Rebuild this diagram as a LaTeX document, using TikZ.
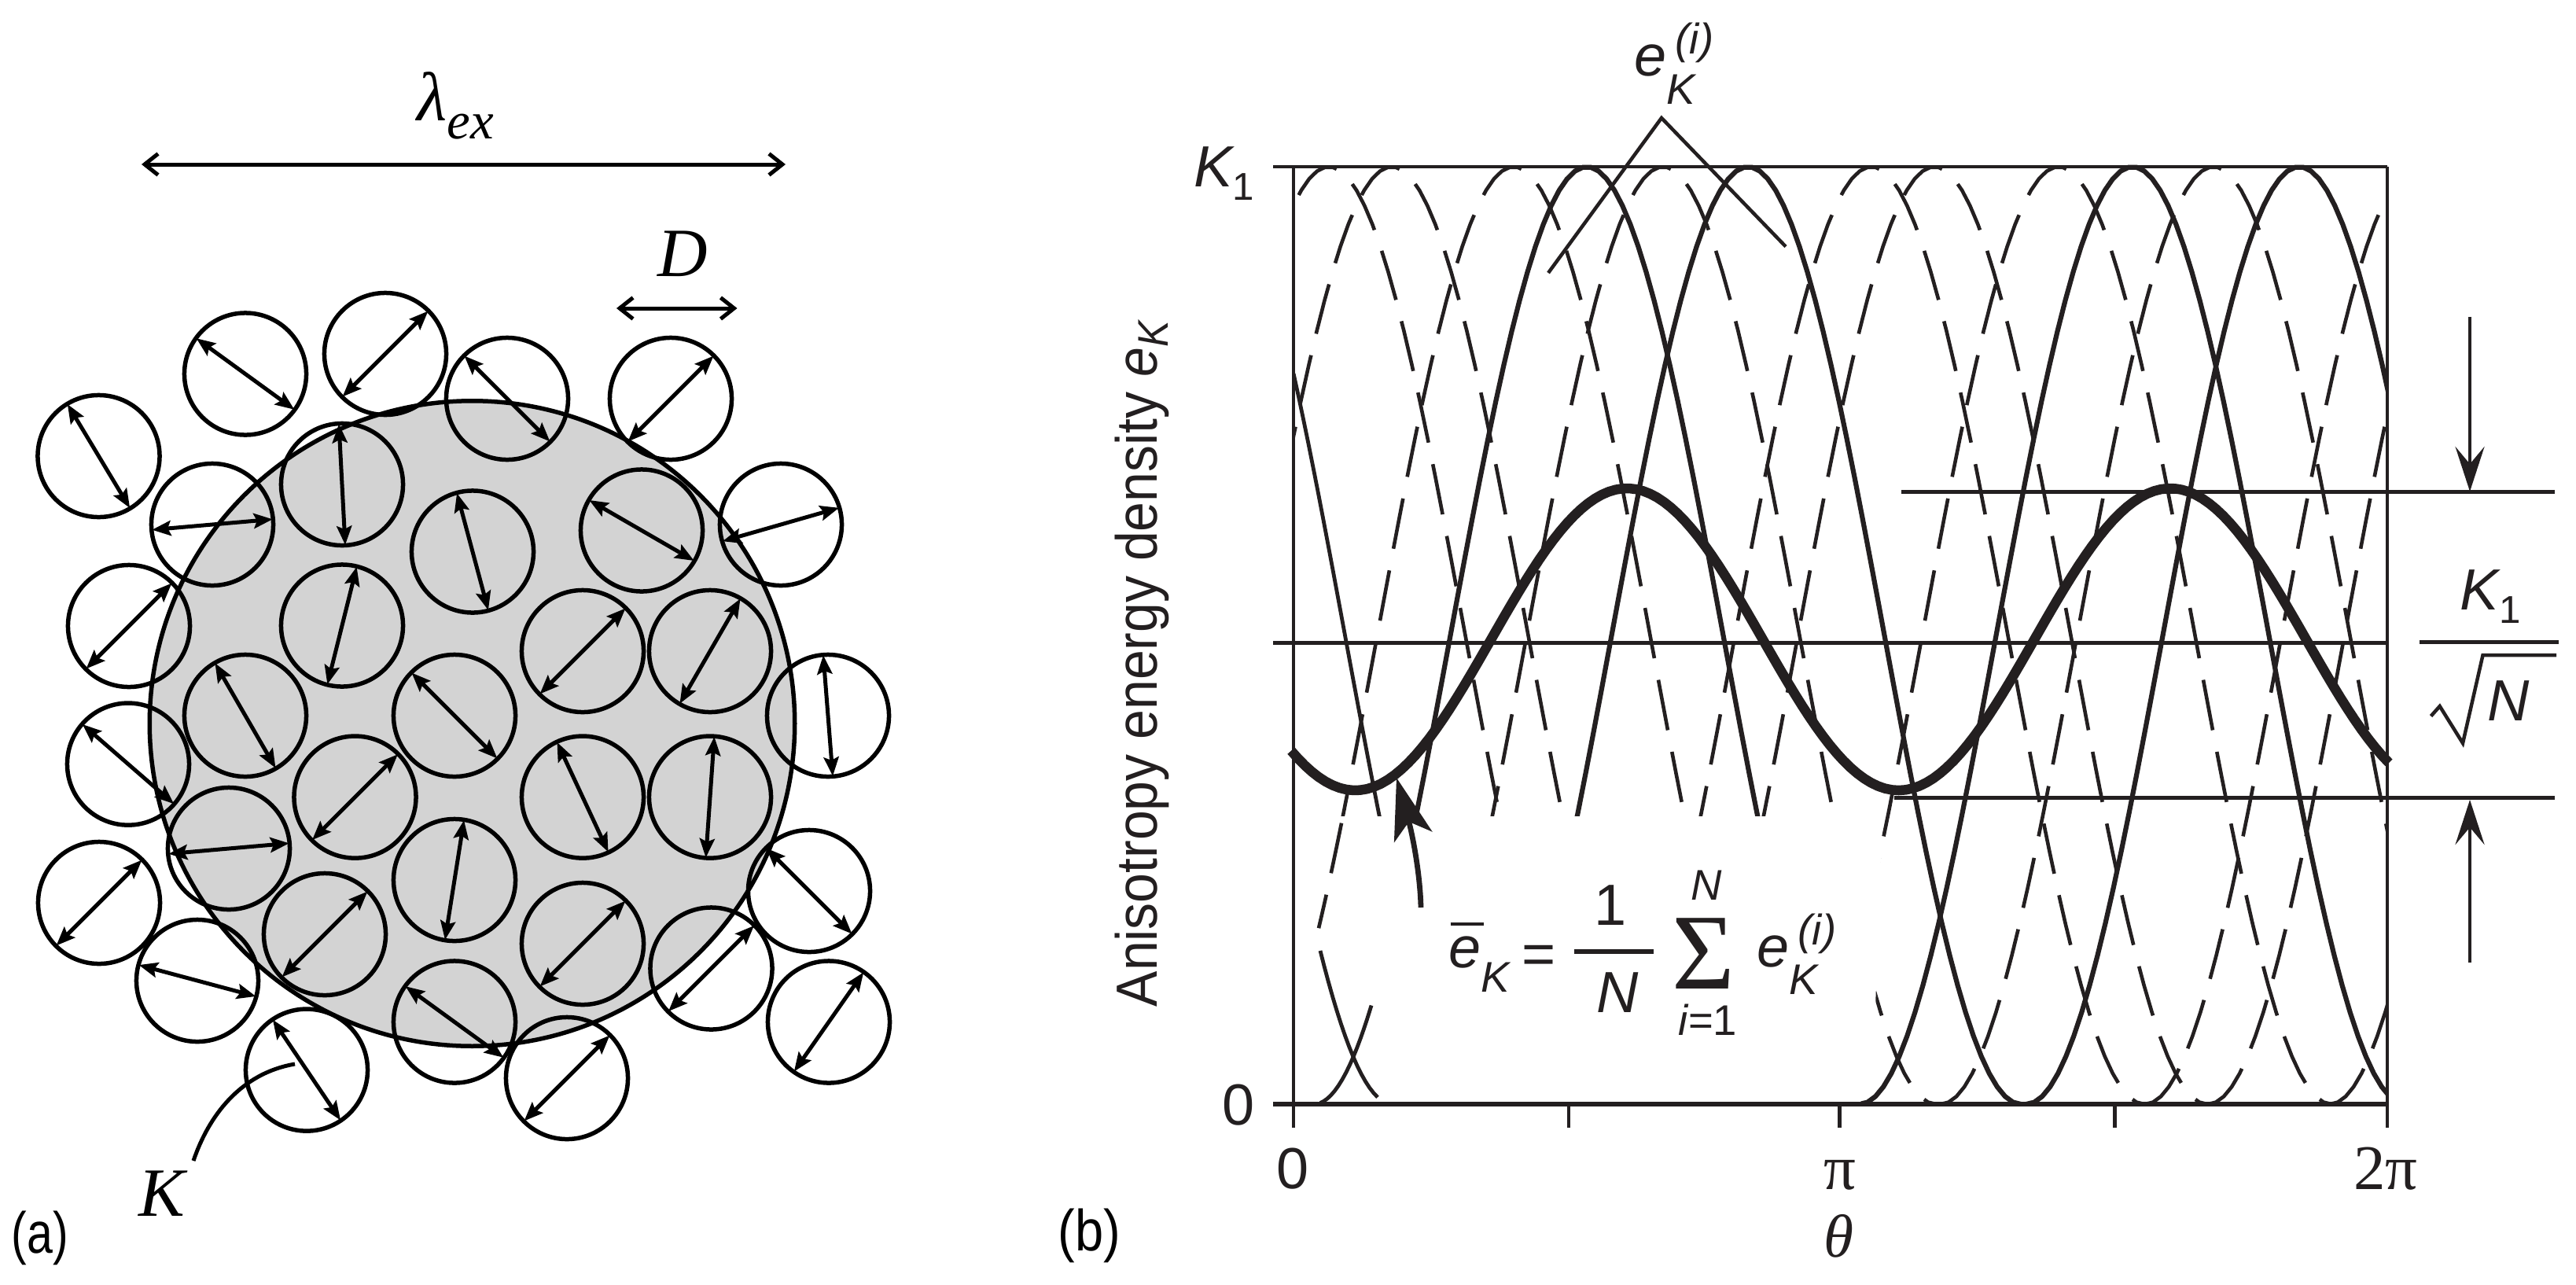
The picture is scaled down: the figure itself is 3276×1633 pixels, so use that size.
\documentclass[tikz,border=0pt]{standalone}
\usepackage{fontspec}
\setmainfont{Liberation Sans}
\newfontfamily\timesfont{Liberation Serif}
\usetikzlibrary{arrows.meta}

\definecolor{inkline}{HTML}{231F20}
\definecolor{diskgray}{HTML}{D3D3D3}

\newcommand{\bigsize}{\fontsize{21}{25}\selectfont}
\newcommand{\subsize}{\fontsize{15.5}{18}\selectfont}
\newcommand{\serifsize}{\fontsize{25}{30}\selectfont}
\newcommand{\ekterm}{\itshape e\rlap{\raisebox{-0.35cm}{\subsize K}}\hspace{0.11cm}\raisebox{0.28cm}{\subsize (i)}}
\newcommand{\ekaxis}{{\itshape e\raisebox{-0.14cm}{\subsize K}}}
\newcommand{\kayone}{\itshape K\raisebox{-0.17cm}{\fontsize{14}{16}\selectfont\upshape 1}}

\tikzset{
	grain/.style={line width=0.055cm},
	moment/.style={line width=0.05cm, {Stealth[length=0.24cm,width=0.19cm,inset=0.04cm]}-{Stealth[length=0.24cm,width=0.19cm,inset=0.04cm]}},
	span/.style={line width=0.05cm, {Straight Barb[length=0.17cm,width=0.27cm]}-{Straight Barb[length=0.17cm,width=0.27cm]}},
	rule/.style={inkline, line width=0.045cm},
	axisline/.style={inkline, line width=0.06cm},
	dashcurve/.style={inkline, line width=0.046cm, dash pattern=on 0.65cm off 0.28cm},
	solidcurve/.style={inkline, line width=0.062cm},
	thincurve/.style={inkline, line width=0.048cm},
	meancurve/.style={inkline, line width=0.125cm},
	bigtip/.style={inkline, line width=0.045cm, -{Stealth[length=0.57cm,width=0.37cm,inset=0.22cm]}},
	txt/.style={inkline, anchor=base, inner sep=0pt, font=\bigsize},
	txtw/.style={inkline, anchor=base west, inner sep=0pt, font=\bigsize},
}

\begin{document}
\begin{tikzpicture}[x=0.01cm, y=-0.01cm]

	\useasboundingbox (0,0) rectangle (3276,1633);

	%disk%
	\draw[fill=diskgray, line width=0.055cm] (600.5,920) circle (4.1cm);

	%grains%
	\foreach \gx/\gy/\gang in {
		125.5/580/121, 312/475.5/144, 490/450/45, 645/507/135, 853/507/45,
		993/667/16, 270/667/5, 435/616/93, 601/701.5/105, 816/674.5/150,
		164/796/45, 435/795.5/76, 741/828/45, 903/828/60, 1053/910/94.5,
		163/971.6/139, 312/910/120, 578/910/135, 451.5/1013.6/45, 741/1013.6/115,
		903/1013.6/86, 291/1079/5, 578/1119/81, 126/1148/45, 413/1188/45,
		741/1200/45, 1029/1133/135, 904.5/1231.5/45, 251/1247/165, 578/1299.5/144,
		1054/1299.5/55, 390/1360.6/124, 721/1371/45}{
		\draw[grain] (\gx,\gy) circle (0.775cm);
		\draw[moment] (\gx,\gy) ++(\gang:0.77cm) -- ++(\gang+180:1.54cm);
	}

	%dimension arrows%
	\coordinate (exleft) at (180,209);
	\coordinate (exright) at (999,209);
	\draw[span] (exleft) -- (exright);
	\coordinate (dleft) at (784,392);
	\coordinate (dright) at (937.5,392);
	\draw[span] (dleft) -- (dright);
	\node[anchor=base west, inner sep=0pt] (lamex) at (530,153) {\timesfont\itshape\serifsize λ\raisebox{-0.23cm}{\fontsize{19}{22}\selectfont ex}};
	\node[anchor=base, inner sep=0pt] (dlabel) at (868,351) {\timesfont\itshape\serifsize D};

	%K pointer%
	\node[anchor=base, inner sep=0pt] (klabel) at (206,1546) {\timesfont\itshape\serifsize K};
	\coordinate (kstart) at (375,1353);
	\coordinate (kend) at (246,1476);
	\draw[line width=0.05cm] (kstart) .. controls (305,1365) and (265,1420) .. (kend);

	\node[anchor=base west, inner sep=0pt, font=\bigsize] (parta) at (14,1593) {\scalebox{0.8}[1]{(a)}};
	\node[anchor=base west, inner sep=0pt, font=\bigsize] (partb) at (1345,1590) {\scalebox{0.88}[1]{(b)}};

	%anisotropy curves%
	\begin{scope}
		\clip (1645,190) rectangle (3037,1406);
		\foreach \pk in {1690,1770,1925,2115,2380,2460,2618,2815,3075,3155,3310}{
			\draw[dashcurve] plot[domain=\pk-347:\pk+347, samples=70] (\x,{1404-1192*cos((\x-\pk)/694*180)^2});
		}
		\foreach \pk in {2018,2223,2712,2924}{
			\draw[solidcurve] plot[domain=\pk-347:\pk+347, samples=70] (\x,{1404-1192*cos((\x-\pk)/694*180)^2});
		}
		\draw[thincurve] plot[domain=1645:1890, samples=40] (\x,{1404-1192*cos((\x-1537)/694*180)^2});

		% white patch round the formula %
		\fill[white] (1646,1038) -- (2335,1038) -- (2392,1088) -- (2385,1280) -- (2366,1402) -- (1646,1402) -- cycle;

		% pieces inside the patch %
		\draw[thincurve] plot[domain=1679:1744, samples=15] (\x,{1404-1192*cos((\x-2018)/694*180)^2});
		\draw[thincurve] plot[domain=1679:1752, samples=15] (\x,{1404-1192*cos((\x-1424)/694*180)^2});
		\draw[dashcurve] plot[domain=1706:1677, samples=15] (\x,{1404-1192*cos((\x-1925)/694*180)^2});
	\end{scope}

	%frame%
	\draw[rule] (1619,212) -- (3036,212);
	\draw[rule] (1619,817.5) -- (3036,817.5);
	\draw[axisline] (1619,1404) -- (3036,1404);
	\draw[rule] (1645,212) -- (1645,1434);
	\draw[rule] (3036,212) -- (3036,1434);
	\draw[rule] (1995,1404) -- (1995,1434);
	\draw[rule] (2339.5,1404) -- (2339.5,1434);
	\draw[rule] (2689.5,1404) -- (2689.5,1434);

	%mean curve%
	\draw[meancurve] plot[domain=1642:3038, samples=160] (\x,{813-192*cos((\x-2069)/691*360)});

	%mean pointer%
	\coordinate (meanstart) at (1807,1154);
	\coordinate (meantip) at (1776,989);
	\draw[inkline, line width=0.068cm, -{Stealth[length=0.78cm,width=0.5cm,inset=0.2cm]}] (meanstart) .. controls (1806,1110) and (1796,1060) .. (meantip);

	%level lines and arrows%
	\draw[rule, line width=0.05cm] (2418,625) -- (3249,625);
	\draw[rule, line width=0.05cm] (2409,1014) -- (3249,1014);
	\coordinate (downtop) at (3141,402.6);
	\coordinate (downtip) at (3141,625);
	\coordinate (upbottom) at (3141,1224);
	\coordinate (uptip) at (3141,1017);
	\draw[bigtip] (downtop) -- (downtip);
	\draw[bigtip] (upbottom) -- (uptip);

	%right fraction%
	\node[txtw] (konetop) at (3128,775) {\kayone};
	\draw[rule, line width=0.055cm] (3077,816.5) -- (3254,816.5);
	\draw[rule, line width=0.045cm] (3091.5,910.6) -- (3102.7,898) -- (3132,945) -- (3157.5,833) -- (3251,833);
	\node[txtw] (nroot) at (3163,916) {\itshape N};

	%pointer lines to curves%
	\coordinate (pointapex) at (2113,150);
	\coordinate (pointleft) at (1969,347);
	\coordinate (pointright) at (2271,313.6);
	\draw[rule] (pointleft) -- (pointapex) -- (pointright);
	\node[txtw] (ekabove) at (2078,97) {\ekterm};

	%axis labels%
	\node[txtw] (kone) at (1518,237) {\kayone};
	\node[txt] (yzero) at (1575,1430) {0};
	\node[txt] (xzero) at (1644,1511) {0};
	\node[txt, font=\timesfont\fontsize{23}{28}\selectfont] (xpi) at (2340,1512) {π};
	\node[txt, font=\timesfont\fontsize{23}{28}\selectfont] (xtwopi) at (3034,1512) {2π};
	\node[txt, font=\timesfont\itshape\fontsize{22}{26}\selectfont] (xtheta) at (2338.6,1598) {θ};
	\node[txtw, rotate=90] (ylabel) at (1471,1281) {\scalebox{0.92}[1]{Anisotropy energy density \ekaxis}};

	%formula%
	\node[txtw] (ebar) at (1842,1230) {\itshape\rlap{\hspace{0.02cm}\raisebox{0.53cm}{\rule{0.42cm}{0.035cm}}}e\raisebox{-0.31cm}{\subsize K}};
	\node[txt] (eqsign) at (1957,1238) {=};
	\node[txt] (fracone) at (2048,1176) {1};
	\draw[rule, line width=0.055cm] (2002,1210) -- (2103,1210);
	\node[txt] (fracn) at (2057,1287) {\itshape N};
	\node[txt, font=\timesfont\fontsize{39}{45}\selectfont] (sumsign) at (2166,1257) {Σ};
	\node[txt, font=\subsize] (sumtop) at (2170,1144) {\itshape N};
	\node[txt, font=\subsize] (sumbottom) at (2172,1316) {{\itshape i}=1};
	\node[txtw] (ekformula) at (2234,1229) {\ekterm};

\end{tikzpicture}
\end{document}
